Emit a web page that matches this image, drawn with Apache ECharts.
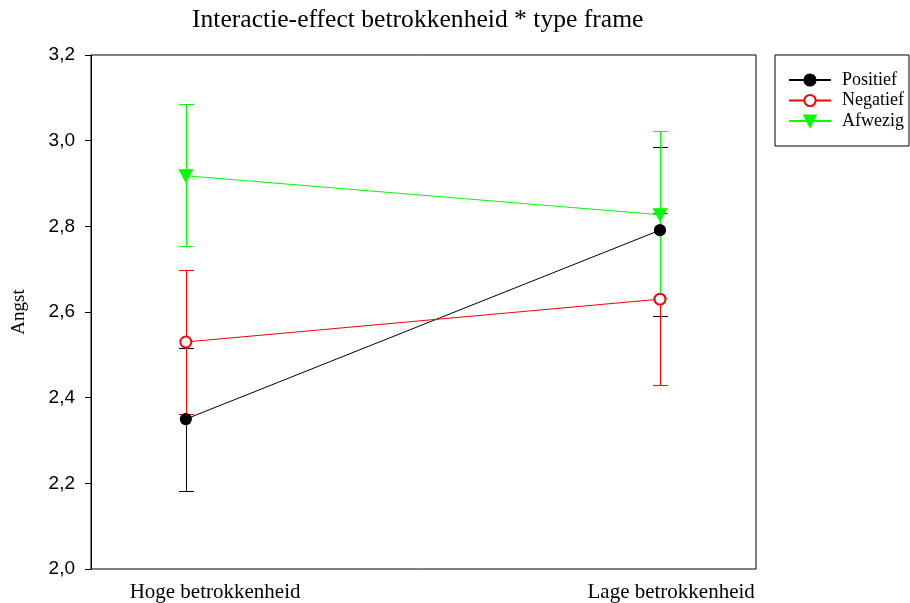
<!DOCTYPE html>
<html>
<head>
<meta charset="utf-8">
<script src="https://cdn.jsdelivr.net/npm/echarts@6/dist/echarts.min.js"></script>
<style>html,body{margin:0;padding:0;background:#fff;}#c{width:910px;height:603px;}</style>
</head>
<body>
<div id="c"></div>
<script>
var categories = ['Hoge betrokkenheid', 'Lage betrokkenheid'];
var xPositions = [1, 2];
var yTicks = [2.0, 2.2, 2.4, 2.6, 2.8, 3.0, 3.2];

var positiefMean = [2.350, 2.791];
var positiefLow  = [2.183, 2.591];
var positiefHigh = [2.517, 2.986];

var negatiefMean = [2.530, 2.630];
var negatiefLow  = [2.362, 2.430];
var negatiefHigh = [2.698, 2.830];

var afwezigMean = [2.918, 2.827];
var afwezigLow  = [2.754, 2.633];
var afwezigHigh = [3.085, 3.023];

var SERIF = '"Liberation Serif", "DejaVu Serif", serif';
var SANS = '"Liberation Sans", Arial, sans-serif';

function pts(mean) { return xPositions.map(function (x, i) { return [x, mean[i]]; }); }
function errData(low, high) { return xPositions.map(function (x, i) { return [x, low[i], high[i]]; }); }

function errSeries(name, color, low, high) {
  return {
    type: 'custom',
    name: name + '_err',
    xAxisIndex: 0,
    yAxisIndex: 0,
    data: errData(low, high),
    encode: { x: 0, y: [1, 2] },
    silent: true,
    z: 2,
    renderItem: function (params, api) {
      var x = api.value(0);
      var lo = api.coord([x, api.value(1)]);
      var hi = api.coord([x, api.value(2)]);
      var cx = Math.round(lo[0]);
      var yl = Math.round(lo[1]);
      var yh = Math.round(hi[1]);
      var half = 7;
      var st = { fill: color, stroke: null };
      return {
        type: 'group',
        children: [
          { type: 'rect', shape: { x: cx, y: yh, width: 1, height: yl - yh + 1 }, style: st },
          { type: 'rect', shape: { x: cx - half, y: yl, width: 2 * half + 1, height: 1 }, style: st },
          { type: 'rect', shape: { x: cx - half, y: yh, width: 2 * half + 1, height: 1 }, style: st }
        ]
      };
    }
  };
}

function lineSeries(name, color, mean, symbol, size, rotate) {
  return {
    type: 'line',
    name: name,
    xAxisIndex: 0,
    yAxisIndex: 0,
    data: pts(mean),
    symbol: symbol,
    symbolSize: size,
    symbolRotate: rotate || 0,
    showAllSymbol: true,
    z: 3,
    color: color,
    lineStyle: { color: color, width: 1 },
    itemStyle: { color: color, borderColor: color, borderWidth: 1.2, opacity: 1 },
    emphasis: { disabled: true },
    animation: false
  };
}

var chart = echarts.init(document.getElementById('c'), null, { renderer: 'canvas' });
chart.setOption({
  animation: false,
  backgroundColor: '#fff',
  title: {
    text: 'Interactie-effect betrokkenheid * type frame',
    left: 192,
    top: 7,
    padding: 0,
    textStyle: { fontFamily: SERIF, fontSize: 25.6, fontWeight: 'normal', color: '#000' }
  },
  legend: {
    orient: 'vertical',
    left: 775,
    top: 55,
    padding: [16, 5, 16, 13],
    itemGap: 2.5,
    itemWidth: 42,
    itemHeight: 14,
    borderColor: '#000',
    borderWidth: 1,
    data: ['Positief', 'Negatief', 'Afwezig'],
    textStyle: { fontFamily: SERIF, fontSize: 18, lineHeight: 18, color: '#000', padding: [0, 0, 0, 6] }
  },
  grid: {
    left: 91, right: 154, top: 55, bottom: 34,
    show: true, borderColor: '#000', borderWidth: 1, backgroundColor: 'transparent',
    containLabel: false
  },
  xAxis: [
    {
      type: 'value', position: 'top', min: 0.8, max: 2.2025,
      axisLine: { show: false }, axisTick: { show: false }, axisLabel: { show: false }, splitLine: { show: false }
    },
    {
      type: 'value', position: 'bottom', min: 0.728, max: 2.186,
      axisLine: { show: false }, axisTick: { show: false }, splitLine: { show: false },
      axisLabel: {
        customValues: xPositions,
        formatter: function (v) { return categories[xPositions.indexOf(Math.round(v))] || ''; },
        fontFamily: SERIF, fontSize: 21, color: '#000', margin: 13
      }
    }
  ],
  yAxis: {
    type: 'value', min: yTicks[0], max: yTicks[yTicks.length - 1], interval: 0.2,
    name: 'Angst', nameLocation: 'middle', nameRotate: 90, nameGap: 62,
    nameTextStyle: { fontFamily: SERIF, fontSize: 19, color: '#000' },
    axisLine: { show: true, lineStyle: { color: '#000', width: 1 } },
    axisTick: { show: true, inside: false, length: 6, lineStyle: { color: '#000' } },
    splitLine: { show: false },
    axisLabel: {
      formatter: function (v) { return v.toFixed(1).replace('.', ','); },
      fontFamily: SANS, fontSize: 19, color: '#000', margin: 16
    }
  },
  series: [
    errSeries('Positief', '#000000', positiefLow, positiefHigh),
    errSeries('Negatief', '#ff0000', negatiefLow, negatiefHigh),
    errSeries('Afwezig', '#00ff00', afwezigLow, afwezigHigh),
    lineSeries('Positief', '#000000', positiefMean, 'circle', 11),
    lineSeries('Negatief', '#ff0000', negatiefMean, 'emptyCircle', 11),
    lineSeries('Afwezig', '#00ff00', afwezigMean, 'triangle', [13, 12], 180)
  ]
});
</script>
</body>
</html>
